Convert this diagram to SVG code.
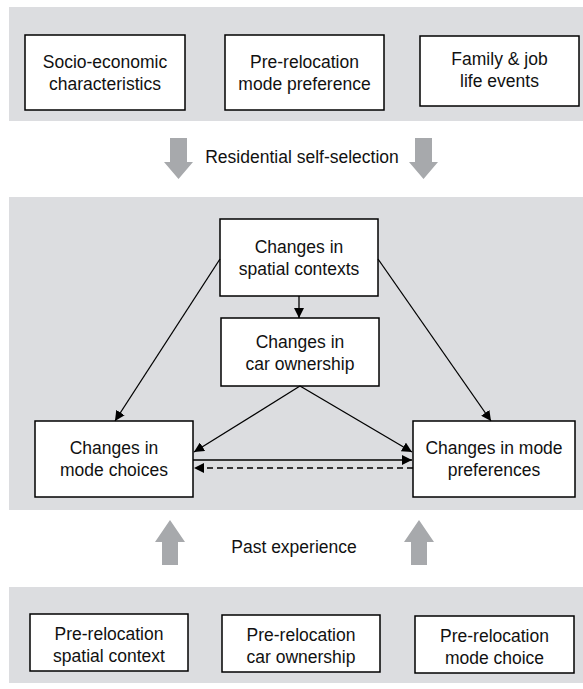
<svg xmlns="http://www.w3.org/2000/svg" width="583" height="689" viewBox="0 0 583 689">
<defs>
<style>
.panel{fill:#dcdde0;stroke:none}
.box{fill:#ffffff;stroke:#000000;stroke-width:1.5}
.t{font-family:"Liberation Sans",Arial,sans-serif;font-size:17.5px;fill:#111111;text-anchor:middle}
.big{fill:#a7a9ac;stroke:none}
.ln{stroke:#000000;stroke-width:1.3;fill:none}
</style>
<marker id="ah" viewBox="0 0 10 10" refX="10" refY="5" markerWidth="10" markerHeight="10" markerUnits="userSpaceOnUse" orient="auto">
<path d="M0,0 L10,5 L0,10 z" fill="#000000"/>
</marker>
</defs>
<rect width="583" height="689" fill="#ffffff"/>
<rect class="panel" x="9" y="7" width="574" height="114"/>
<rect class="panel" x="9" y="197" width="574" height="313"/>
<rect class="panel" x="9" y="587" width="574" height="96"/>

<g id="socio"><rect class="box" x="25" y="35" width="160" height="75"/><text class="t" x="105" y="68">Socio-economic</text><text class="t" x="105" y="90">characteristics</text></g>
<g id="premodepref"><rect class="box" x="225" y="35" width="159" height="75"/><text class="t" x="304.5" y="68">Pre-relocation</text><text class="t" x="304.5" y="90">mode preference</text></g>
<g id="family"><rect class="box" x="420" y="36" width="159" height="70"/><text class="t" x="499.5" y="65">Family &amp; job</text><text class="t" x="499.5" y="87">life events</text></g>

<g id="selfsel">
<path class="big" d="M170,138 H187 V162 H193 L178.5,179 L164,162 H170 Z"/>
<path class="big" d="M415,138 H432 V162 H438 L423.5,179 L409,162 H415 Z"/>
<text class="t" x="302" y="163">Residential self-selection</text>
</g>

<g id="spatial"><rect class="box" x="220" y="219" width="158" height="77"/><text class="t" x="299" y="253">Changes in</text><text class="t" x="299" y="275">spatial contexts</text></g>
<g id="car"><rect class="box" x="221" y="318" width="158" height="68"/><text class="t" x="300" y="348">Changes in</text><text class="t" x="300" y="370">car ownership</text></g>
<g id="choices"><rect class="box" x="35" y="421" width="158" height="76"/><text class="t" x="114" y="454">Changes in</text><text class="t" x="114" y="476">mode choices</text></g>
<g id="prefs"><rect class="box" x="413" y="421" width="162" height="76"/><text class="t" x="494" y="454">Changes in mode</text><text class="t" x="494" y="476">preferences</text></g>

<g id="connectors">
<line class="ln" x1="299" y1="296" x2="299" y2="318" marker-end="url(#ah)"/>
<line class="ln" x1="220" y1="259" x2="115" y2="421" marker-end="url(#ah)"/>
<line class="ln" x1="378" y1="259" x2="491" y2="421" marker-end="url(#ah)"/>
<line class="ln" x1="300" y1="386" x2="194" y2="452" marker-end="url(#ah)"/>
<line class="ln" x1="300" y1="386" x2="412" y2="452" marker-end="url(#ah)"/>
<line class="ln" x1="193" y1="460" x2="412" y2="460" marker-end="url(#ah)"/>
<line class="ln" x1="413" y1="468" x2="194" y2="468" stroke-dasharray="6,4" marker-end="url(#ah)"/>
</g>

<g id="pastexp">
<path class="big" d="M162,565 H178 V542 H185 L170,520 L155,542 H162 Z"/>
<path class="big" d="M411,565 H427 V542 H434 L419,520 L404,542 H411 Z"/>
<text class="t" x="294" y="553">Past experience</text>
</g>

<g id="prespatial"><rect class="box" x="30" y="614" width="158" height="57"/><text class="t" x="109" y="640">Pre-relocation</text><text class="t" x="109" y="662">spatial context</text></g>
<g id="precar"><rect class="box" x="222" y="615" width="158" height="57"/><text class="t" x="301" y="641">Pre-relocation</text><text class="t" x="301" y="663">car ownership</text></g>
<g id="premode"><rect class="box" x="415" y="616" width="159" height="57"/><text class="t" x="494.5" y="642">Pre-relocation</text><text class="t" x="494.5" y="664">mode choice</text></g>
</svg>
